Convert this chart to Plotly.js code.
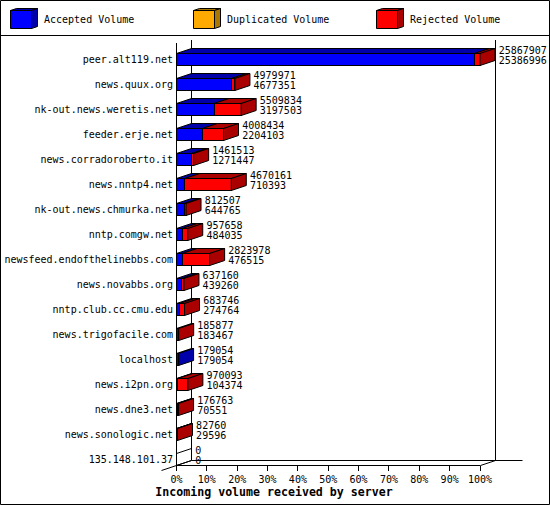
<!DOCTYPE html>
<html><head><meta charset="utf-8">
<script src="https://cdn.plot.ly/plotly-3.0.1.min.js"></script>
<style>html,body{margin:0;padding:0;background:#fff}#c{width:550px;height:505px}</style>
</head><body><div id="c"></div>
<script>
const servers = ["peer.alt119.net","news.quux.org","nk-out.news.weretis.net","feeder.erje.net","news.corradoroberto.it","news.nntp4.net","nk-out.news.chmurka.net","nntp.comgw.net","newsfeed.endofthelinebbs.com","news.novabbs.org","nntp.club.cc.cmu.edu","news.trigofacile.com","localhost","news.i2pn.org","news.dne3.net","news.sonologic.net","135.148.101.37"];
const totalVolume = [25867907,4979971,5509834,4008434,1461513,4670161,812507,957658,2823978,637160,683746,185877,179054,970093,176763,82760,0];
const acceptedVolume = [25386996,4677351,3197503,2204103,1271447,710393,644765,484035,476515,439260,274764,183467,179054,104374,70551,29596,0];
const duplicatedVolume = [0,0,0,0,0,0,0,0,0,0,0,0,0,0,0,0,0];
const legendNames = ["Accepted Volume","Duplicated Volume","Rejected Volume"];
const percentTicks = [0,10,20,30,40,50,60,70,80,90,100];

const W=550,H=505,L=176,T=40,R=523,B=465;
const x0px=176.5, pxPerPct=3.035, rowPx=25, row0=59.5;
const dx=15/pxPerPct, dy=5/rowPx, h=6/rowPx;
const BLUE="#0000ff",DBLUE="#0000aa",ORANGE="#ffaa00",DORANGE="#aa7700",RED="#ff0000",DRED="#aa0000";
const MONO="'DejaVu Sans Mono', monospace";
const maxV=Math.max(...totalVolume);
const pct=v=>v/maxV*100;
const rows=servers.map((_,i)=>i);
const acc=acceptedVolume.map(pct);
const dup=duplicatedVolume.map(pct);
const rej=totalVolume.map((t,i)=>pct(t-acceptedVolume[i]-duplicatedVolume[i]));
const tot=totalVolume.map(pct);

const bar=(x,c)=>({type:'bar',orientation:'h',y:rows,x:x,width:2*h,marker:{color:c,line:{color:'#000',width:1}},hoverinfo:'skip'});
function poly(list,c){
  const xs=[],ys=[];
  list.forEach(p=>{p.forEach(q=>{xs.push(q[0]);ys.push(q[1]);});xs.push(p[0][0],null);ys.push(p[0][1],null);});
  return {type:'scatter',mode:'lines',x:xs,y:ys,fill:'toself',fillcolor:c,line:{color:'#000',width:1},hoverinfo:'skip',cliponaxis:false};
}
const top3=(a,b,i)=>[[a,i-h],[b,i-h],[b+dx,i-h-dy],[a+dx,i-h-dy]];
const side=(t,i)=>[[t,i-h],[t+dx,i-h-dy],[t+dx,i+h-dy],[t,i+h]];
const topBlue=rows.filter(i=>acc[i]>0).map(i=>top3(0,acc[i],i));
const topRed=rows.filter(i=>rej[i]>0).map(i=>top3(acc[i],tot[i],i));
const sideBlue=rows.filter(i=>tot[i]>0&&rej[i]===0).map(i=>side(tot[i],i));
const sideRed=rows.filter(i=>rej[i]>0).map(i=>side(tot[i],i));
const empty=rows.filter(i=>tot[i]===0);
const emptyEdges={type:'scatter',mode:'lines',x:empty.flatMap(i=>[0,dx,null,0,dx,null]),y:empty.flatMap(i=>[i-h,i-h-dy,null,i+h,i+h-dy,null]),line:{color:'#000',width:1},hoverinfo:'skip'};
const label=(arr,off)=>({type:'scatter',mode:'text',x:tot.map(t=>t+dx+1.2),y:rows.map(i=>i+off),text:arr.map(String),textposition:'middle right',textfont:{family:MONO,size:10,color:'#000'},hoverinfo:'skip',cliponaxis:false});

const data=[bar(acc,BLUE),bar(dup,ORANGE),bar(rej,RED),
  poly(topBlue,DBLUE),poly(topRed,DRED),poly(sideBlue,DBLUE),poly(sideRed,DRED),emptyEdges,
  label(totalVolume,-0.34),label(acceptedVolume,0.08)];

const ln=(x0,y0,x1,y1)=>({type:'line',xref:'paper',yref:'paper',layer:'below',x0:(x0-L)/(R-L),x1:(x1-L)/(R-L),y0:(B-y0)/(B-T),y1:(B-y1)/(B-T),line:{color:'#000',width:1}});
const box=(pts,c)=>({type:'path',xref:'paper',yref:'paper',layer:'above',fillcolor:c,line:{color:'#000',width:1},
  path:'M'+pts.map(p=>((p[0]-L)/(R-L))+','+((B-p[1])/(B-T))).join('L')+'Z'});
const shapes=[
  ln(0.5,0.5,549.5,0.5),ln(549.5,0.5,549.5,504.5),ln(549.5,504.5,0.5,504.5),ln(0.5,504.5,0.5,0.5),
  ln(0.5,35.5,549.5,35.5),
  ln(176.5,43,176.5,470),ln(191.5,40,191.5,460.5),ln(495.5,40,495.5,460.5),
  ln(176.5,465.5,480.5,465.5),ln(191.5,460.5,522.5,460.5),
  ln(161.5,470.5,191.5,460.5),ln(480.5,465.5,495.5,460.5)
];
const annotations=[];
[[10,BLUE,DBLUE,44],[193,ORANGE,DORANGE,227],[376,RED,DRED,410]].forEach((d,k)=>{
  const x=d[0]+.5;
  shapes.push(box([[x,10.5],[x+21,10.5],[x+21,28.5],[x,28.5]],d[1]));
  shapes.push(box([[x,10.5],[x+6,8.5],[x+27,8.5],[x+21,10.5]],d[2]));
  shapes.push(box([[x+21,10.5],[x+27,8.5],[x+27,26.5],[x+21,28.5]],d[2]));
  annotations.push({xref:'paper',yref:'paper',x:(d[3]-L)/(R-L),y:(B-20)/(B-T),xanchor:'left',yanchor:'middle',xshift:-2,showarrow:false,text:legendNames[k],font:{family:MONO,size:10,color:'#000'}});
});

const layout={width:W,height:H,paper_bgcolor:'#fff',plot_bgcolor:'#fff',showlegend:false,barmode:'stack',
  margin:{l:L,t:T,r:W-R,b:H-B,pad:0},
  title:{text:'<b>Incoming volume received by server</b>',xref:'container',yref:'container',x:274/W,xanchor:'center',y:1-492/H,yanchor:'middle',font:{family:MONO,size:11.6,color:'#000'},pad:{t:0,b:0,l:0,r:0}},
  xaxis:{range:[(L-x0px)/pxPerPct,(R-x0px)/pxPerPct],tickmode:'array',tickvals:percentTicks,ticktext:percentTicks.map(v=>v+'%'),ticks:'outside',ticklen:5,tickwidth:1,tickcolor:'#000',showgrid:false,zeroline:false,showline:false,tickfont:{family:MONO,size:10,color:'#000'}},
  yaxis:{range:[(B-row0)/rowPx,(T-row0)/rowPx],tickmode:'array',tickvals:rows,ticktext:servers,ticks:'',ticklabelstandoff:2,showgrid:false,zeroline:false,showline:false,tickfont:{family:MONO,size:10,color:'#000'}},
  shapes:shapes,annotations:annotations};
Plotly.newPlot('c',data,layout,{displayModeBar:false,staticPlot:true});
</script></body></html>
